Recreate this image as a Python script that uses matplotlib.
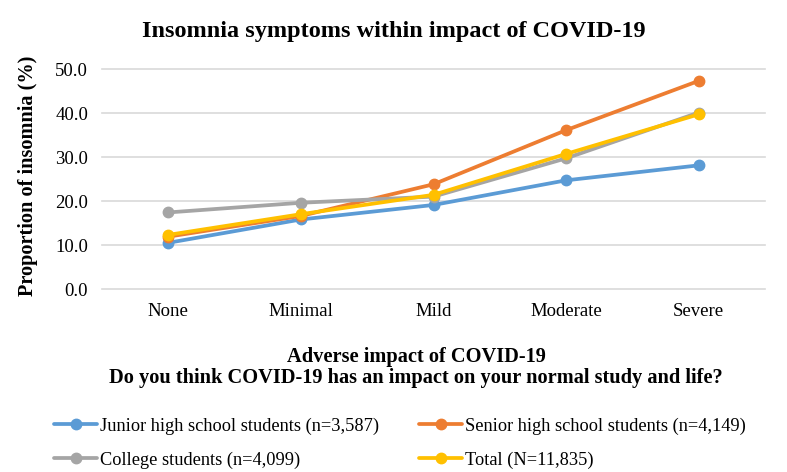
import matplotlib.pyplot as plt

plt.rcParams['font.family'] = ['Liberation Serif', 'DejaVu Serif']

categories = ['None', 'Minimal', 'Mild', 'Moderate', 'Severe']
junior = [10.5, 15.8, 19.1, 24.7, 28.1]
senior = [11.9, 16.6, 23.8, 36.1, 47.3]
college = [17.4, 19.6, 21.0, 29.7, 40.1]
total = [12.3, 17.0, 21.4, 30.7, 39.7]

labels = ['Junior high school students (n=3,587)',
          'Senior high school students (n=4,149)',
          'College students (n=4,099)',
          'Total (N=11,835)']
colors = ['#5B9BD5', '#ED7D31', '#A5A5A5', '#FFC000']
series = [junior, senior, college, total]

W, H = 787, 472
fig = plt.figure(figsize=(W / 100, H / 100), dpi=100)
ax = fig.add_axes([102 / W, 1 - 289 / H, 663 / W, 220 / H])

x = list(range(len(categories)))
handles = []
for vals, c, lab in zip(series, colors, labels):
    ln, = ax.plot(x, vals, color=c, lw=2.7, marker='o', ms=7.5, label=lab,
                  solid_capstyle='round', zorder=3)
    handles.append(ln)

ax.set_xlim(-0.5, 4.5)
ax.set_ylim(0, 50)
yt = [0, 10, 20, 30, 40, 50]
ax.set_yticks(yt)
ax.set_yticklabels(['%.1f' % v for v in yt])
ax.set_xticks(x)
ax.set_xticklabels(categories)
ax.tick_params(length=0, labelsize=13.5)
ax.tick_params(axis='y', pad=10)
ax.tick_params(axis='x', pad=10)
ax.grid(axis='y', color='#D9D9D9', lw=1.2)
for gl in ax.get_ygridlines():
    gl.set_clip_on(False)
for s in ax.spines.values():
    s.set_visible(False)

fig.text(28 / W, 1 - 176 / H, 'Proportion of insomnia (%)', rotation=90,
         ha='center', va='center', fontsize=14.6, fontweight='bold')
fig.text(394 / W, 1 - 32 / H, 'Insomnia symptoms within impact of COVID-19',
         ha='center', va='center', fontsize=17.5, fontweight='bold')
fig.text(416 / W, 1 - 357 / H, 'Adverse impact of COVID-19',
         ha='center', va='center', fontsize=14.7, fontweight='bold')
fig.text(416 / W, 1 - 378 / H,
         'Do you think COVID-19 has an impact on your normal study and life?',
         ha='center', va='center', fontsize=14.7, fontweight='bold')

order = [0, 2, 1, 3]
fig.legend([handles[i] for i in order], [labels[i] for i in order],
           ncol=2, loc='center left', bbox_to_anchor=(54 / W, 1 - 443 / H),
           frameon=False, fontsize=13.2, handlelength=2.35, handletextpad=0.15,
           columnspacing=2.2, labelspacing=0.9, borderpad=0, borderaxespad=0)

fig.savefig('out.png', dpi=100)
